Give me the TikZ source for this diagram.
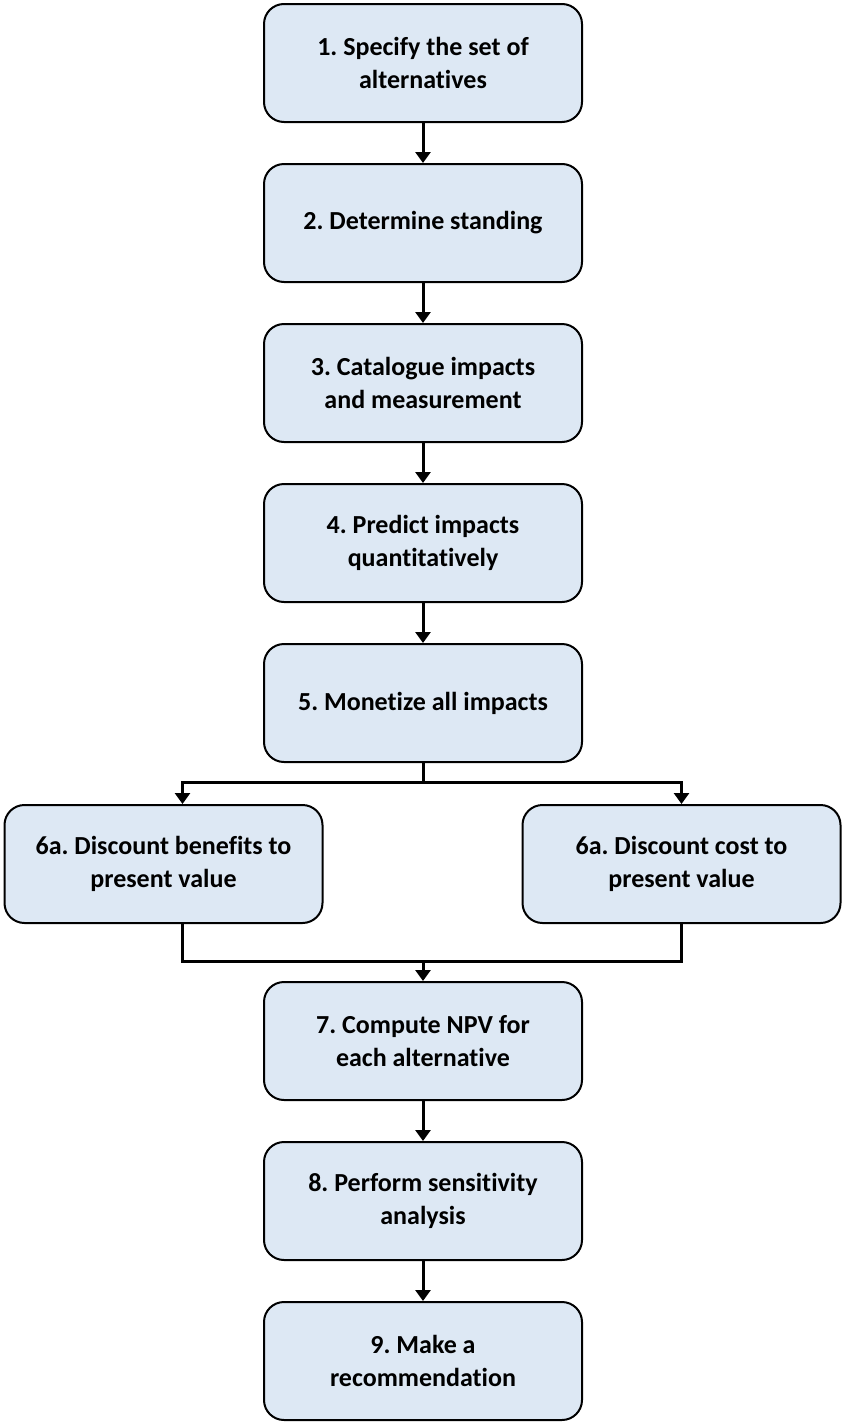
\documentclass[tikz,border=0pt]{standalone}
\usepackage{fontspec}
\setmainfont[Ligatures=NoCommon]{Carlito}
\usetikzlibrary{arrows.meta}
\frenchspacing
\definecolor{stepfill}{HTML}{DDE8F4}
\tikzset{
  stepbox/.style={draw=black, line width=2pt, fill=stepfill, rounded corners=20pt,
    minimum width=318pt, minimum height=118pt, align=center,
    font=\fontsize{26pt}{33pt}\selectfont\bfseries},
  link/.style={line width=3pt}
}
\begin{document}
\begin{tikzpicture}[x=1pt,y=-1pt,>={Triangle[length=11pt,width=15pt]}]
      \useasboundingbox (0,0) rectangle (842,1427);
      % Nodes
      \foreach \i/\y/\txt in {1/63/{1. Specify the set of\\alternatives},
                              2/223/{2. Determine standing},
                              3/383/{3. Catalogue impacts\\and measurement},
                              4/543/{4. Predict impacts\\quantitatively},
                              5/703/{5. Monetize all impacts},
                              7/1041/{7. Compute NPV for\\each alternative},
                              8/1201/{8. Perform sensitivity\\analysis},
                              9/1361/{9. Make a\\recommendation}}
        \node[stepbox] (S\i) at (423,\y) {\txt};
      \node[stepbox] (S6a) at (163.5,864) {6a. Discount benefits to\\present value};
      \node[stepbox] (S6b) at (681.5,864) {6a. Discount cost to\\present value};
      \coordinate (split) at (423,782);
      \coordinate (merge) at (423,961);

      % Arrows
      \foreach \i/\j in {1/2, 2/3, 3/4, 4/5, 7/8, 8/9}
        \draw[link,->] (S\i) -- (S\j);
      \draw[link] (S5) -- (split);
      \draw[link,->] (split) -| ([xshift=19pt]S6a.north);
      \draw[link,->] (split) -| (S6b.north);
      \draw[link] ([xshift=19pt]S6a.south) |- (merge);
      \draw[link] (S6b.south) |- (merge);
      \draw[link,->] (merge) -- (S7);

    \end{tikzpicture}
\end{document}
